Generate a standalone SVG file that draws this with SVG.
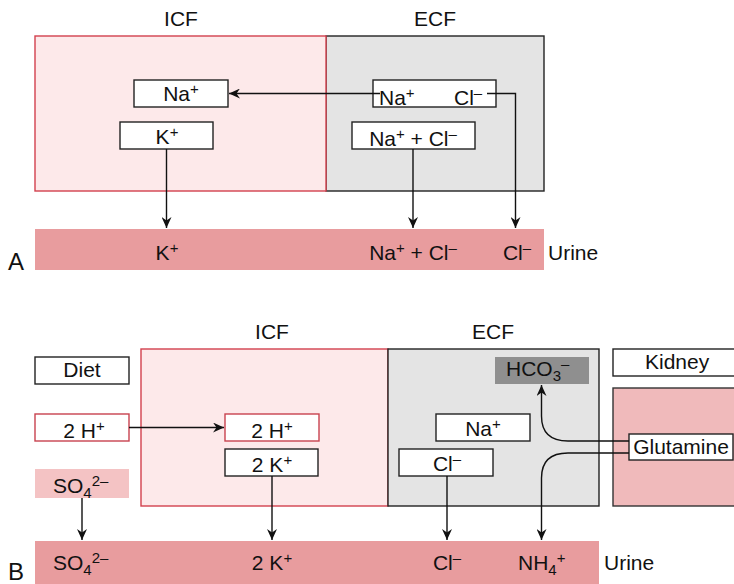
<svg xmlns="http://www.w3.org/2000/svg" width="734" height="584" viewBox="0 0 734 584">
<style>
text{font-family:"Liberation Sans",Arial,sans-serif;font-size:21px;fill:#111;}
.c{text-anchor:middle;}
.s{font-size:15px;}
.lab{font-size:24px;}
.box{fill:#fff;stroke:#222;stroke-width:1.4;}
.rbox{fill:#fff;stroke:#c8424f;stroke-width:1.4;}
.icf{fill:#fde9ea;stroke:#d2404e;stroke-width:1.4;}
.ecf{fill:#e4e4e4;stroke:#222;stroke-width:1.4;}
.urine{fill:#e89c9e;}
.con{fill:none;stroke:#111;stroke-width:1.4;}
</style>
<defs>
<marker id="ah" markerUnits="userSpaceOnUse" markerWidth="12" markerHeight="10" refX="11" refY="5" orient="auto">
<path d="M0,0 L11,5 L0,10 L3.5,5 Z" fill="#111"/>
</marker>
</defs>

<!-- Panel A -->
<g id="A-label"><text class="lab" x="8" y="270">A</text></g>
<g id="A-icf-title"><text class="c" x="181" y="26">ICF</text></g>
<g id="A-ecf-title"><text class="c" x="435" y="26">ECF</text></g>
<g id="A-ecf"><rect class="ecf" x="326" y="36" width="218" height="155"/></g>
<g id="A-icf"><rect class="icf" x="35" y="36" width="291" height="155"/></g>
<g id="A-urine">
<rect class="urine" x="35" y="229" width="509" height="41"/>
<text class="c" x="167" y="260">K<tspan class="s" dy="-7">+</tspan></text>
<text class="c" x="413" y="260">Na<tspan class="s" dy="-7">+</tspan><tspan dy="7"> + Cl</tspan><tspan class="s" dy="-7">–</tspan></text>
<text class="c" x="517" y="260">Cl<tspan class="s" dy="-7">–</tspan></text>
<text x="548" y="260">Urine</text>
</g>
<g id="A-na-icf"><rect class="box" x="134" y="80" width="94" height="27"/><text class="c" x="181" y="101">Na<tspan class="s" dy="-7">+</tspan></text></g>
<g id="A-k-icf"><rect class="box" x="120" y="122" width="93" height="27"/><text class="c" x="167" y="144">K<tspan class="s" dy="-7">+</tspan></text></g>
<g id="A-nacl-ecf"><rect class="box" x="373" y="80" width="123" height="27"/><text x="379" y="105">Na<tspan class="s" dy="-7">+</tspan></text><text x="454" y="105">Cl<tspan class="s" dy="-7">–</tspan></text></g>
<g id="A-naplus-cl"><rect class="box" x="352" y="122" width="123" height="27"/><text class="c" x="413" y="146">Na<tspan class="s" dy="-7">+</tspan><tspan dy="7"> + Cl</tspan><tspan class="s" dy="-7">–</tspan></text></g>

<!-- Panel B -->
<g id="B-label"><text class="lab" x="8" y="580">B</text></g>
<g id="B-icf-title"><text class="c" x="272" y="339">ICF</text></g>
<g id="B-ecf-title"><text class="c" x="493" y="339">ECF</text></g>
<g id="B-icf"><rect class="icf" x="141" y="349" width="247" height="157"/></g>
<g id="B-ecf"><rect class="ecf" x="388" y="349" width="211" height="157"/></g>
<g id="B-kidney-area"><rect x="613" y="388" width="130" height="118" fill="#f0babb" stroke="#333" stroke-width="1.4"/></g>
<g id="B-kidney"><rect class="box" x="613" y="349" width="130" height="27"/><text x="645" y="369">Kidney</text></g>
<g id="B-diet"><rect class="box" x="35" y="357" width="94" height="27"/><text class="c" x="82" y="377">Diet</text></g>
<g id="B-2h-diet"><rect class="rbox" x="35" y="414" width="94" height="27"/><text class="c" x="84" y="438">2 H<tspan class="s" dy="-7">+</tspan></text></g>
<g id="B-so4-diet"><rect x="35" y="469" width="94" height="29" fill="#f4c3c4"/><text x="53" y="493">SO<tspan class="s" dy="5">4</tspan><tspan class="s" dy="-12">2–</tspan></text></g>
<g id="B-2h-icf"><rect class="rbox" x="225" y="414" width="94" height="27"/><text class="c" x="272" y="438">2 H<tspan class="s" dy="-7">+</tspan></text></g>
<g id="B-2k-icf"><rect class="box" x="225" y="449" width="93" height="27"/><text class="c" x="272" y="472">2 K<tspan class="s" dy="-7">+</tspan></text></g>
<g id="B-hco3"><rect x="495" y="357" width="94" height="27" fill="#8f8f8f"/><text x="506" y="376">HCO<tspan class="s" dy="5">3</tspan><tspan class="s" dy="-12">–</tspan></text></g>
<g id="B-na-ecf"><rect class="box" x="436" y="414" width="94" height="27"/><text class="c" x="483" y="436">Na<tspan class="s" dy="-7">+</tspan></text></g>
<g id="B-cl-ecf"><rect class="box" x="399" y="449" width="94" height="27"/><text class="c" x="447" y="471">Cl<tspan class="s" dy="-7">–</tspan></text></g>
<g id="B-glutamine"><rect class="box" x="629" y="434" width="104" height="26"/><text class="c" x="681" y="454">Glutamine</text></g>
<g id="B-urine">
<rect class="urine" x="35" y="541" width="564" height="43"/>
<text x="53" y="570">SO<tspan class="s" dy="5">4</tspan><tspan class="s" dy="-12">2–</tspan></text>
<text class="c" x="272" y="570">2 K<tspan class="s" dy="-7">+</tspan></text>
<text class="c" x="447" y="570">Cl<tspan class="s" dy="-7">–</tspan></text>
<text x="518" y="570">NH<tspan class="s" dy="5">4</tspan><tspan class="s" dy="-12">+</tspan></text>
<text x="604" y="570">Urine</text>
</g>

<g id="connectors">
<path class="con" d="M380,93.5 H229" marker-end="url(#ah)"/>
<path class="con" d="M487,93.5 H515.5 V228" marker-end="url(#ah)"/>
<path class="con" d="M166.5,149 V228" marker-end="url(#ah)"/>
<path class="con" d="M413,149 V228" marker-end="url(#ah)"/>
<path class="con" d="M129,427.5 H224" marker-end="url(#ah)"/>
<path class="con" d="M82,498 V540" marker-end="url(#ah)"/>
<path class="con" d="M272,476 V540" marker-end="url(#ah)"/>
<path class="con" d="M447,476 V540" marker-end="url(#ah)"/>
<path class="con" d="M629,441 H568 C550,441 541.5,432 541.5,416 V385" marker-end="url(#ah)"/>
<path class="con" d="M629,453 H568 C550,453 541.5,462 541.5,478 V540" marker-end="url(#ah)"/>
</g>
</svg>
